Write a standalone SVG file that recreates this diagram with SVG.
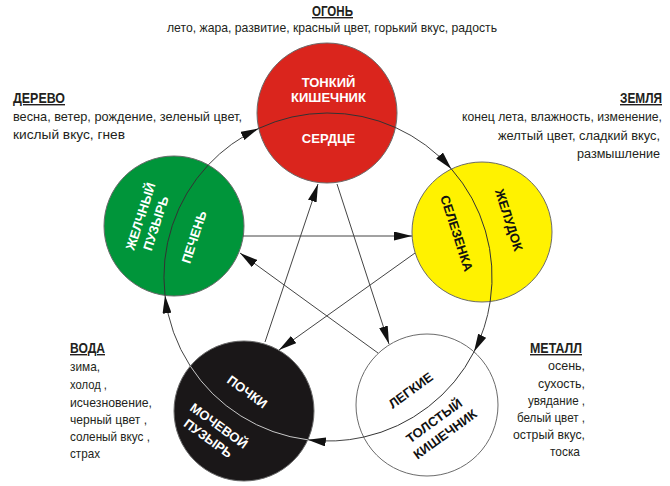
<svg xmlns="http://www.w3.org/2000/svg" width="670" height="486" viewBox="0 0 670 486">
<style>
.hd{font-family:"Liberation Sans",Arial,sans-serif;font-size:14px;font-weight:bold;fill:#231f20;text-decoration:underline}
.tx{font-family:"Liberation Sans",Arial,sans-serif;font-size:13px;fill:#231f20}
.sm{font-size:12px}
.lb{font-family:"Liberation Sans",Arial,sans-serif;font-size:13px;font-weight:bold;text-anchor:middle}
.w{fill:#ffffff}
.k{fill:#111111}
.c{stroke:#6b6b6b;stroke-width:1}
.div{fill:none;stroke:#333333;stroke-width:1}
.cn{fill:none;stroke:#444444;stroke-width:1;marker-end:url(#ah)}
</style>
<defs>
<marker id="ah" viewBox="0 0 18 9" refX="18" refY="4.5" markerWidth="18" markerHeight="9" markerUnits="userSpaceOnUse" orient="auto">
<path d="M0,0 L18,4.5 L0,9 z" fill="#111"/>
</marker>
</defs>
<rect width="670" height="486" fill="#ffffff"/>

<g id="labels">
<text class="hd" x="312" y="16" textLength="41" lengthAdjust="spacingAndGlyphs">ОГОНЬ</text>
<text class="tx" x="167" y="32" textLength="330" lengthAdjust="spacingAndGlyphs">лето, жара, развитие, красный цвет, горький вкус, радость</text>
<text class="hd" x="13" y="103" textLength="52" lengthAdjust="spacingAndGlyphs">ДЕРЕВО</text>
<text class="tx" x="13" y="121" textLength="229" lengthAdjust="spacingAndGlyphs">весна, ветер, рождение, зеленый цвет,</text>
<text class="tx" x="13" y="139" textLength="112" lengthAdjust="spacingAndGlyphs">кислый вкус, гнев</text>
<text class="hd" x="620" y="103" textLength="42" lengthAdjust="spacingAndGlyphs">ЗЕМЛЯ</text>
<text class="tx sm" x="462" y="121" textLength="200" lengthAdjust="spacingAndGlyphs">конец лета, влажность, изменение,</text>
<text class="tx sm" x="498" y="140" textLength="162" lengthAdjust="spacingAndGlyphs">желтый цвет, сладкий вкус,</text>
<text class="tx sm" x="577" y="158" textLength="83" lengthAdjust="spacingAndGlyphs">размышление</text>
<text class="hd" x="70" y="353" textLength="35" lengthAdjust="spacingAndGlyphs">ВОДА</text>
<text class="tx" x="70" y="371" textLength="30" lengthAdjust="spacingAndGlyphs">зима,</text>
<text class="tx" x="70" y="389" textLength="37" lengthAdjust="spacingAndGlyphs">холод ,</text>
<text class="tx" x="70" y="407" textLength="82" lengthAdjust="spacingAndGlyphs">исчезновение,</text>
<text class="tx" x="70" y="424" textLength="77" lengthAdjust="spacingAndGlyphs">черный цвет ,</text>
<text class="tx" x="70" y="441" textLength="80" lengthAdjust="spacingAndGlyphs">соленый вкус ,</text>
<text class="tx" x="70" y="458" textLength="30" lengthAdjust="spacingAndGlyphs">страх</text>
<text class="hd" x="530" y="353" textLength="52" lengthAdjust="spacingAndGlyphs">МЕТАЛЛ</text>
<text class="tx" x="548" y="370" textLength="37" lengthAdjust="spacingAndGlyphs">осень,</text>
<text class="tx" x="538" y="388" textLength="47" lengthAdjust="spacingAndGlyphs">сухость,</text>
<text class="tx" x="528" y="405" textLength="57" lengthAdjust="spacingAndGlyphs">увядание ,</text>
<text class="tx" x="517" y="422" textLength="68" lengthAdjust="spacingAndGlyphs">белый цвет ,</text>
<text class="tx" x="513" y="439" textLength="72" lengthAdjust="spacingAndGlyphs">острый вкус,</text>
<text class="tx" x="550" y="456" textLength="30" lengthAdjust="spacingAndGlyphs">тоска</text>
</g>

<g id="fire">
<circle class="c" cx="327" cy="113" r="70" fill="#da251d"/>
<path class="div" d="M258.7,128.4 A164,164 0 0 1 395.5,127.5"/>
<text class="lb w" x="328.5" y="87">ТОНКИЙ</text>
<text class="lb w" x="328.5" y="102">КИШЕЧНИК</text>
<text class="lb w" x="328.5" y="143">СЕРДЦЕ</text>
</g>

<g id="wood">
<circle class="c" cx="174" cy="226" r="70" fill="#00953a"/>
<path class="div" d="M165.0,295.4 A164,164 0 0 1 208.3,164.9"/>
<text class="lb w" transform="translate(140.5,216.3) rotate(-72)" y="4.6">ЖЕЛЧНЫЙ</text>
<text class="lb w" transform="translate(155.7,223.3) rotate(-72)" y="4.6">ПУЗЫРЬ</text>
<text class="lb w" transform="translate(194,237) rotate(-72)" y="4.6">ПЕЧЕНЬ</text>
</g>

<g id="earth">
<circle class="c" cx="482" cy="232" r="70" fill="#fff200"/>
<path class="div" d="M451.4,169.0 A164,164 0 0 1 490.2,301.5"/>
<text class="lb k" transform="translate(456.7,233.3) rotate(72)" y="4.6">СЕЛЕЗЕНКА</text>
<text class="lb k" transform="translate(509,220) rotate(72)" y="4.6">ЖЕЛУДОК</text>
</g>

<g id="metal">
<circle class="c" cx="427" cy="405" r="71" fill="#ffffff"/>
<path class="div" d="M474.0,351.8 A164,164 0 0 1 363.6,437.1"/>
<text class="lb k" transform="translate(410.7,390.3) rotate(-36)" y="4.6">ЛЕГКИЕ</text>
<text class="lb k" transform="translate(434,420.7) rotate(-36)" y="4.6">ТОЛСТЫЙ</text>
<text class="lb k" transform="translate(445,434) rotate(-36)" y="4.6">КИШЕЧНИК</text>
</g>

<g id="water">
<circle class="c" cx="244" cy="411" r="70" fill="#1a1718"/>
<path class="div" d="M307.8,439.8 A164,164 0 0 1 190.3,366.1" style="stroke:#c8c8c8"/>
<text class="lb w" transform="translate(247.3,391.7) rotate(36)" y="4.6">ПОЧКИ</text>
<text class="lb w" transform="translate(219,425.7) rotate(36)" y="4.6">МОЧЕВОЙ</text>
<text class="lb w" transform="translate(208.3,438.3) rotate(36)" y="4.6">ПУЗЫРЬ</text>
</g>

<g id="connectors">
<path class="cn" d="M395.5,127.5 A164,164 0 0 1 451.4,169.0"/>
<path class="cn" d="M490.2,301.5 A164,164 0 0 1 474.0,351.8"/>
<path class="cn" d="M363.6,437.1 A164,164 0 0 1 307.8,439.8"/>
<path class="cn" d="M190.3,366.1 A164,164 0 0 1 165.0,295.4"/>
<path class="cn" d="M208.3,164.9 A164,164 0 0 1 258.7,128.4"/>
<path class="cn" d="M265,342 L318,184"/>
<path class="cn" d="M337,184 L389,344"/>
<path class="cn" d="M243,236 L412,236"/>
<path class="cn" d="M378,353 L240,253"/>
<path class="cn" d="M415,253 L279,350"/>
</g>
</svg>
